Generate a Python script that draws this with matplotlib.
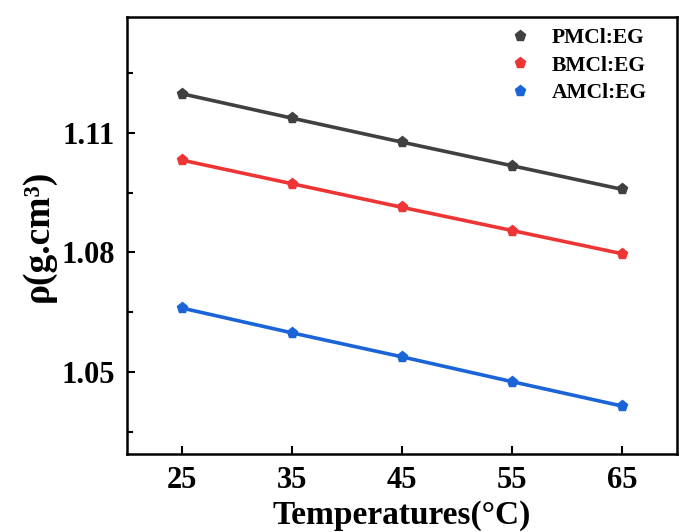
import matplotlib.pyplot as plt
from matplotlib.ticker import MultipleLocator

# data
temps = [25, 35, 45, 55, 65]
pmcl = [1.1197, 1.1136, 1.1076, 1.1017, 1.0958]
bmcl = [1.1031, 1.0972, 1.0913, 1.0855, 1.0797]
amcl = [1.0661, 1.0599, 1.0539, 1.0477, 1.0416]
names = ["PMCl:EG", "BMCl:EG", "AMCl:EG"]
colors = ["#404040", "#ee3535", "#1a64d8"]

plt.rcParams['font.family'] = ['Liberation Serif', 'DejaVu Serif']
plt.rcParams['font.weight'] = 'bold'

fig = plt.figure(figsize=(6.91, 5.32), dpi=100)
ax = fig.add_axes([127/691, 1-454/532, 550/691, 437/532])

for vals, name, c in zip([pmcl, bmcl, amcl], names, colors):
    ax.plot(temps, vals, color=c, lw=2.6, marker='p', ms=8, label=name)

ax.set_xlim(20, 70)
ax.set_ylim(1.0296, 1.1389)
ax.set_xticks(temps)
ax.yaxis.set_major_locator(MultipleLocator(0.03))
ax.yaxis.set_minor_locator(MultipleLocator(0.015))
ax.yaxis.set_major_formatter(lambda v, p: f"{v:.2f}")
ax.tick_params(axis='both', which='both', direction='in', labelsize=22, width=1.5)
ax.tick_params(which='major', length=6, pad=9)
ax.tick_params(which='minor', length=4)
for lab in ax.get_xticklabels() + ax.get_yticklabels():
    lab.set_fontweight('bold')
for s in ax.spines.values():
    s.set_linewidth(1.8)

ax.set_xlabel("Temperatures(°C)", fontsize=24, fontweight='bold', labelpad=3)
ax.set_ylabel("ρ(g.cm³)", fontsize=27, fontweight='bold', labelpad=4)

leg = ax.legend(loc='upper right', frameon=False, prop={'size': 15.5, 'weight': 'bold'},
                handlelength=0, markerscale=1, handletextpad=1.5, labelspacing=0.35,
                borderaxespad=0.6)
leg.set_bbox_to_anchor((0.985, 1.024), transform=ax.transAxes)

fig.savefig("out.png", dpi=100)
